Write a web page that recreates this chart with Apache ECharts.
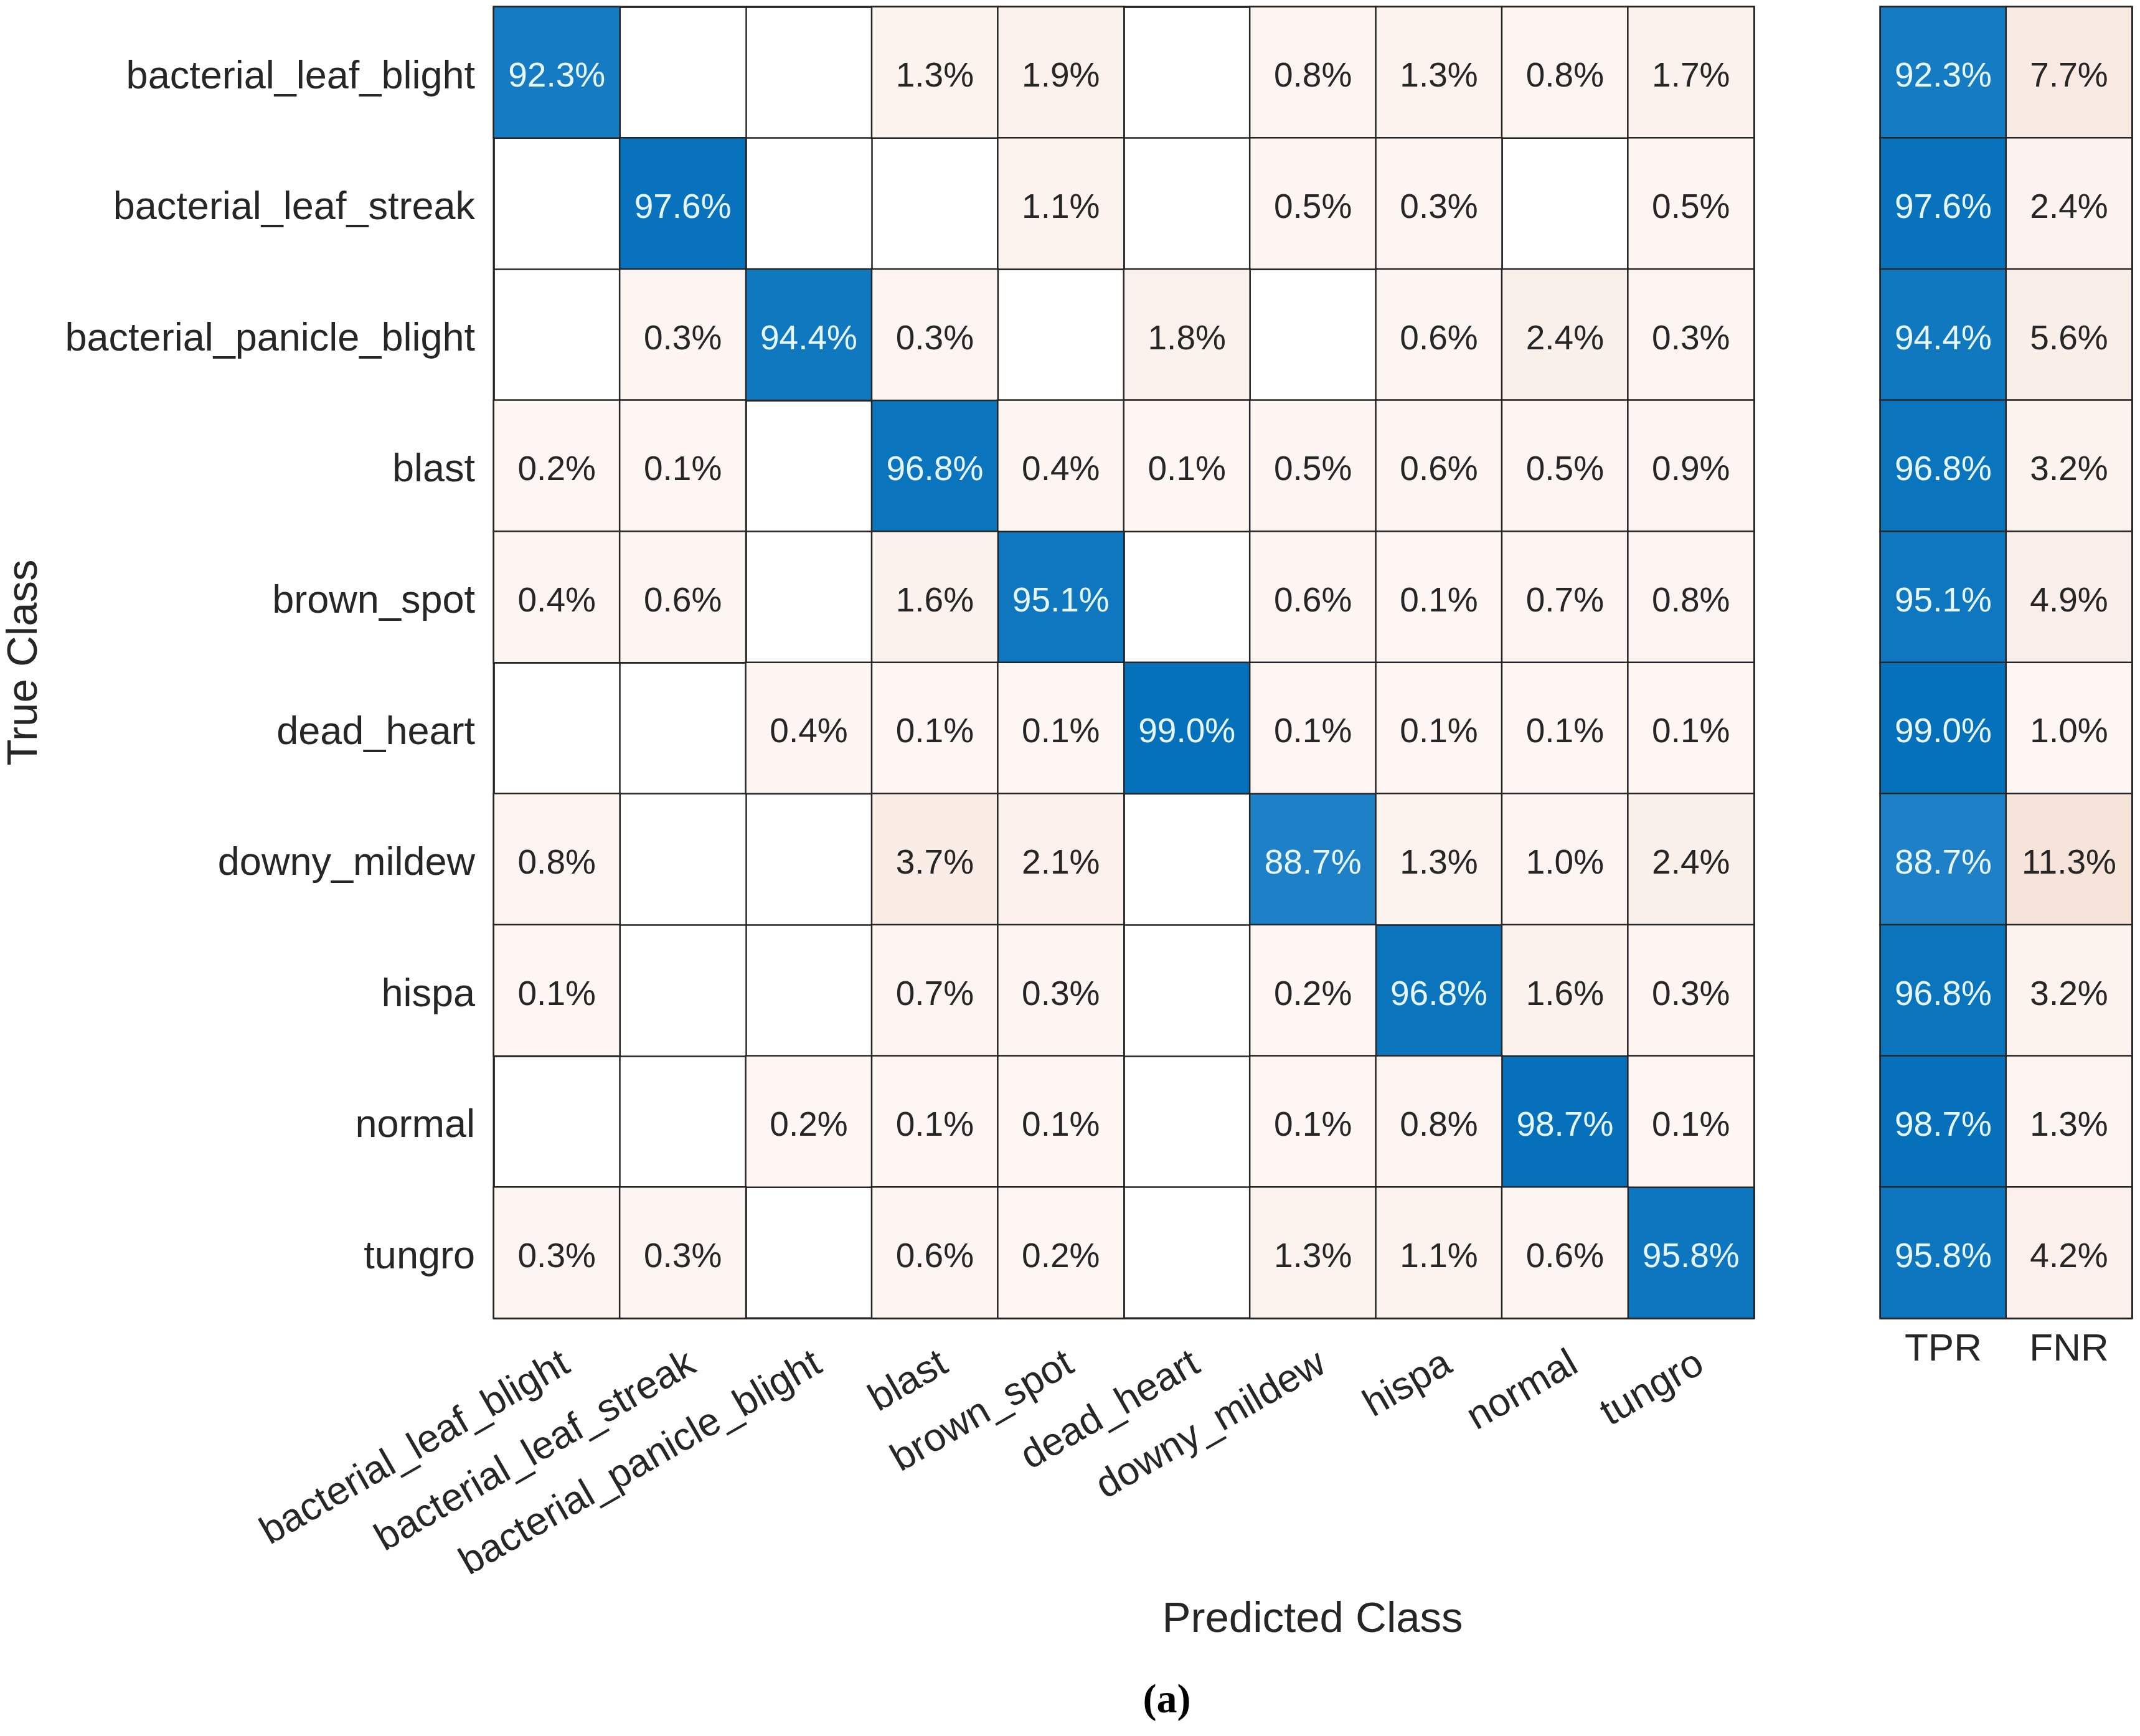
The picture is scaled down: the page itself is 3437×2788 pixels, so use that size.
<!DOCTYPE html>
<html>
<head>
<meta charset="utf-8">
<script src="https://cdn.jsdelivr.net/npm/echarts@6/dist/echarts.min.js"></script>
<style>
html,body{margin:0;padding:0;background:#fff;}
#c{width:3437px;height:2788px;}
</style>
</head>
<body>
<div id="c"></div>
<script>
var classes = ['bacterial_leaf_blight','bacterial_leaf_streak','bacterial_panicle_blight','blast','brown_spot','dead_heart','downy_mildew','hispa','normal','tungro'];
var summaryLabels = ['TPR','FNR'];
// rows = true class, columns = predicted class (percent of row); null = empty cell
var row_bacterial_leaf_blight   = [92.3, null, null, 1.3, 1.9, null, 0.8, 1.3, 0.8, 1.7];
var row_bacterial_leaf_streak   = [null, 97.6, null, null, 1.1, null, 0.5, 0.3, null, 0.5];
var row_bacterial_panicle_blight= [null, 0.3, 94.4, 0.3, null, 1.8, null, 0.6, 2.4, 0.3];
var row_blast                   = [0.2, 0.1, null, 96.8, 0.4, 0.1, 0.5, 0.6, 0.5, 0.9];
var row_brown_spot              = [0.4, 0.6, null, 1.6, 95.1, null, 0.6, 0.1, 0.7, 0.8];
var row_dead_heart              = [null, null, 0.4, 0.1, 0.1, 99.0, 0.1, 0.1, 0.1, 0.1];
var row_downy_mildew            = [0.8, null, null, 3.7, 2.1, null, 88.7, 1.3, 1.0, 2.4];
var row_hispa                   = [0.1, null, null, 0.7, 0.3, null, 0.2, 96.8, 1.6, 0.3];
var row_normal                  = [null, null, 0.2, 0.1, 0.1, null, 0.1, 0.8, 98.7, 0.1];
var row_tungro                  = [0.3, 0.3, null, 0.6, 0.2, null, 1.3, 1.1, 0.6, 95.8];
var tpr = [92.3, 97.6, 94.4, 96.8, 95.1, 99.0, 88.7, 96.8, 98.7, 95.8];
var fnr = [7.7, 2.4, 5.6, 3.2, 4.9, 1.0, 11.3, 3.2, 1.3, 4.2];

var matrix = [row_bacterial_leaf_blight,row_bacterial_leaf_streak,row_bacterial_panicle_blight,row_blast,row_brown_spot,row_dead_heart,row_downy_mildew,row_hispa,row_normal,row_tungro];

var diagData = [], offData = [], tprData = [], fnrData = [];
for (var i = 0; i < matrix.length; i++) {
  for (var j = 0; j < matrix[i].length; j++) {
    var v = matrix[i][j];
    if (v === null) continue;
    if (i === j) diagData.push([j, i, v]); else offData.push([j, i, v]);
  }
  tprData.push([0, i, tpr[i]]);
  fnrData.push([1, i, fnr[i]]);
}

var FONT = '"Liberation Sans", Arial, Helvetica, sans-serif';
var fmt = function (p) { return p.value[2].toFixed(1) + '%'; };
var cellBorder = { borderColor: '#262626', borderWidth: 2.5 };
var lightLabel = { show: true, formatter: fmt, color: '#E6F6FF', fontSize: 55, fontFamily: FONT, offset: [0, 8] };
var darkLabel = { show: true, formatter: fmt, color: '#262626', fontSize: 55, fontFamily: FONT, offset: [0, 8] };

var chart = echarts.init(document.getElementById('c'));
chart.setOption({
  animation: false,
  backgroundColor: '#ffffff',
  grid: [
    { left: 793, top: 11, width: 2024, height: 2106, show: true, borderColor: '#262626', borderWidth: 3, backgroundColor: '#ffffff' },
    { left: 3020, top: 11, width: 404, height: 2106, show: true, borderColor: '#262626', borderWidth: 3, backgroundColor: '#ffffff' }
  ],
  xAxis: [
    { type: 'category', gridIndex: 0, data: classes, axisLine: { show: false }, axisTick: { show: false },
      splitLine: { show: true, lineStyle: { color: '#262626', width: 2.5 } },
      axisLabel: { rotate: 30, margin: 42, verticalAlign: 'top', fontSize: 63, color: '#262626', fontFamily: FONT, interval: 0 } },
    { type: 'category', gridIndex: 1, data: summaryLabels, axisLine: { show: false }, axisTick: { show: false },
      splitLine: { show: true, lineStyle: { color: '#262626', width: 2.5 } },
      axisLabel: { margin: 20, fontSize: 62, color: '#262626', fontFamily: FONT, interval: 0 } }
  ],
  yAxis: [
    { type: 'category', gridIndex: 0, data: classes, inverse: true, axisLine: { show: false }, axisTick: { show: false },
      splitLine: { show: true, lineStyle: { color: '#262626', width: 2.5 } },
      axisLabel: { margin: 30, interval: 0,
        formatter: function (v) { return '{s| }\n{a|' + v + '}'; },
        rich: {
          s: { fontSize: 1, lineHeight: 16 },
          a: { fontSize: 63, lineHeight: 72, color: '#262626', fontFamily: FONT }
        } } },
    { type: 'category', gridIndex: 1, data: classes, inverse: true, axisLine: { show: false }, axisTick: { show: false },
      splitLine: { show: true, lineStyle: { color: '#262626', width: 2.5 } },
      axisLabel: { show: false } }
  ],
  visualMap: [
    { show: false, seriesIndex: 0, dimension: 2, min: 88.7, max: 99.0, inRange: { color: ['#1E80C6', '#0571BA'] } },
    { show: false, seriesIndex: 1, dimension: 2, min: 0.1, max: 3.7, inRange: { color: ['#FDF6F3', '#F9ECE5'] } },
    { show: false, seriesIndex: 2, dimension: 2, min: 88.7, max: 99.0, inRange: { color: ['#1E80C6', '#0571BA'] } },
    { show: false, seriesIndex: 3, dimension: 2, min: 1.0, max: 11.3, inRange: { color: ['#FDF6F3', '#F6E3DA'] } }
  ],
  series: [
    { type: 'heatmap', xAxisIndex: 0, yAxisIndex: 0, data: diagData, itemStyle: cellBorder, label: lightLabel, emphasis: { disabled: true } },
    { type: 'heatmap', xAxisIndex: 0, yAxisIndex: 0, data: offData, itemStyle: cellBorder, label: darkLabel, emphasis: { disabled: true } },
    { type: 'heatmap', xAxisIndex: 1, yAxisIndex: 1, data: tprData, itemStyle: cellBorder, label: lightLabel, emphasis: { disabled: true } },
    { type: 'heatmap', xAxisIndex: 1, yAxisIndex: 1, data: fnrData, itemStyle: cellBorder, label: darkLabel, emphasis: { disabled: true } }
  ],
  graphic: [
    { type: 'text', x: 40, y: 1064, rotation: Math.PI / 2,
      style: { text: 'True Class', fontSize: 69, fontFamily: FONT, fill: '#262626', textAlign: 'center', textVerticalAlign: 'middle' } },
    { type: 'text', x: 2108, y: 2602,
      style: { text: 'Predicted Class', fontSize: 69, fontFamily: FONT, fill: '#262626', textAlign: 'center', textVerticalAlign: 'middle' } },
    { type: 'text', x: 1874, y: 2733,
      style: { text: '(a)', fontSize: 66, fontWeight: 'bold', fontFamily: '"Liberation Serif", "Times New Roman", serif', fill: '#000000', textAlign: 'center', textVerticalAlign: 'middle' } }
  ]
});
</script>
</body>
</html>
